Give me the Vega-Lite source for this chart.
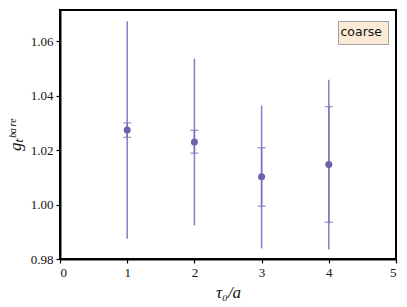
{
  "$schema": "https://vega.github.io/schema/vega-lite/v6.json",
  "width": 336,
  "height": 249,
  "autosize": {"type": "none"},
  "padding": {"left": 60, "top": 10, "right": 11, "bottom": 48},
  "background": "white",
  "config": {
    "view": {"stroke": "black", "strokeWidth": 2},
    "axis": {
      "labelFont": "Liberation Serif",
      "labelFontSize": 13,
      "labelColor": "#111",
      "titleFont": "Liberation Serif",
      "titleFontSize": 17,
      "titleFontWeight": "normal",
      "titleColor": "#111",
      "grid": false,
      "domainColor": "black",
      "domainWidth": 2,
      "tickColor": "black",
      "tickWidth": 1.2,
      "tickSize": 4
    }
  },
  "data": {
    "values": [
      {"tau": 1, "g": 1.0274, "stat_lo": 1.0247, "stat_hi": 1.0300, "sys_lo": 0.9874, "sys_hi": 1.0674, "ensemble": "coarse"},
      {"tau": 2, "g": 1.0230, "stat_lo": 1.0189, "stat_hi": 1.0273, "sys_lo": 0.9924, "sys_hi": 1.0536, "ensemble": "coarse"},
      {"tau": 3, "g": 1.0102, "stat_lo": 0.9994, "stat_hi": 1.0209, "sys_lo": 0.9839, "sys_hi": 1.0364, "ensemble": "coarse"},
      {"tau": 4, "g": 1.0147, "stat_lo": 0.9935, "stat_hi": 1.0360, "sys_lo": 0.9835, "sys_hi": 1.0459, "ensemble": "coarse"}
    ]
  },
  "encoding": {
    "x": {
      "field": "tau", "type": "quantitative",
      "scale": {"domain": [0, 5], "nice": false},
      "axis": {"values": [0, 1, 2, 3, 4, 5], "format": "d", "title": "τ₀/a", "titleFontStyle": "italic", "titlePadding": 5, "labelPadding": 3}
    }
  },
  "layer": [
    {
      "mark": {"type": "rule", "color": "#8a84c6", "strokeWidth": 1.6},
      "encoding": {
        "y": {
          "field": "sys_lo", "type": "quantitative",
          "scale": {"domain": [0.98, 1.0715], "nice": false, "zero": false},
          "axis": {"values": [0.98, 1.0, 1.02, 1.04, 1.06], "format": ".2f", "title": "gₜᵇᵃʳᵉ", "titleFontStyle": "italic", "titlePadding": 6, "labelPadding": 3}
        },
        "y2": {"field": "sys_hi"}
      }
    },
    {
      "mark": {"type": "errorbar", "color": "#7a73bb", "thickness": 1.4, "ticks": {"size": 8, "thickness": 1.4}},
      "encoding": {
        "y": {"field": "stat_lo", "type": "quantitative", "title": "gₜᵇᵃʳᵉ"},
        "y2": {"field": "stat_hi"}
      }
    },
    {
      "mark": {"type": "circle", "size": 50, "opacity": 1},
      "encoding": {
        "y": {"field": "g", "type": "quantitative", "title": "gₜᵇᵃʳᵉ"},
        "color": {
          "field": "ensemble", "type": "nominal",
          "scale": {"range": ["#6b63ad"]},
          "legend": {
            "title": null,
            "orient": "none",
            "legendX": 278,
            "legendY": 11,
            "fillColor": "#fbead5",
            "strokeColor": "#a0a0a0",
            "padding": 5,
            "symbolSize": 0,
            "symbolOpacity": 0,
            "symbolStrokeWidth": 0,
            "labelOffset": -15,
            "labelFont": "DejaVu Sans",
            "labelFontSize": 12.5,
            "labelColor": "#111"
          }
        }
      }
    }
  ]
}
